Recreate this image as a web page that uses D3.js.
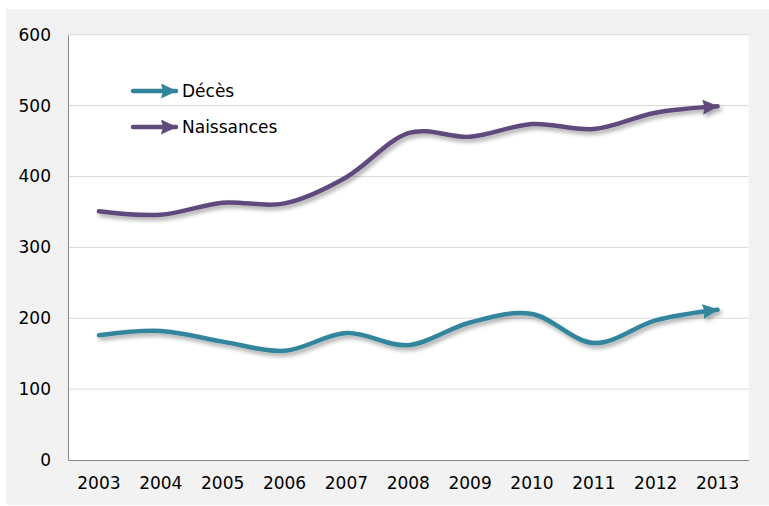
<!DOCTYPE html>
<html>
<head>
<meta charset="utf-8">
<script src="https://cdn.jsdelivr.net/npm/d3@7"></script>
<style>
  body { margin: 0; background: #fff; }
  text { font-family: "DejaVu Sans", Verdana, sans-serif; fill: #000; }
</style>
</head>
<body>
<script>
// Data
const years = ["2003", "2004", "2005", "2006", "2007", "2008", "2009", "2010", "2011", "2012", "2013"];
const deces = [176, 182, 167, 154, 179, 162, 194, 206, 165, 197, 212];
const naissances = [351, 346, 363, 362, 399, 461, 456, 474, 467, 490, 499];
const yTicks = [0, 100, 200, 300, 400, 500, 600];
const seriesNames = ["Décès", "Naissances"];
const seriesColors = ["#31859c", "#604a7b"];

const W = 769, H = 506;
const plot = { left: 68, top: 34.7, right: 748.5, bottom: 460 };

const svg = d3.select("body").append("svg")
  .attr("width", W)
  .attr("height", H);

// Shadow and arrow heads
const defs = svg.append("defs");
defs.append("filter")
  .attr("id", "shadow")
  .attr("x", "-10%").attr("y", "-30%")
  .attr("width", "120%").attr("height", "160%")
  .append("feDropShadow")
  .attr("dx", 2).attr("dy", 3)
  .attr("stdDeviation", 2)
  .attr("flood-color", "#000")
  .attr("flood-opacity", 0.35);

seriesColors.forEach((c, i) => {
  defs.append("marker")
    .attr("id", "arrow" + i)
    .attr("viewBox", "0 0 16 15")
    .attr("refX", 15)
    .attr("refY", 7.5)
    .attr("markerWidth", 16)
    .attr("markerHeight", 15)
    .attr("markerUnits", "userSpaceOnUse")
    .attr("orient", "auto")
    .append("path")
    .attr("d", "M0,0 L16,7.5 L0,15 L2,7.5 Z")
    .attr("fill", c);
});

// Outer grey chart area
svg.append("rect")
  .attr("x", 6).attr("y", 9)
  .attr("width", W - 6).attr("height", 496)
  .attr("fill", "#f2f2f2");

svg.append("rect")
  .attr("x", plot.left).attr("y", plot.top)
  .attr("width", plot.right - plot.left).attr("height", plot.bottom - plot.top)
  .attr("fill", "#fff");

// Scales
const x = d3.scaleBand().domain(years).range([plot.left, plot.right]);
const y = d3.scaleLinear().domain([0, 600]).range([plot.bottom, plot.top]);
const xc = d => x(d) + x.bandwidth() / 2;

// Gridlines
svg.append("g")
  .selectAll("line")
  .data(yTicks.filter(d => d > 0))
  .join("line")
  .attr("x1", plot.left).attr("x2", plot.right)
  .attr("y1", d => y(d)).attr("y2", d => y(d))
  .attr("stroke", "#d9d9d9")
  .attr("stroke-width", 1);

// Axes
const yAxis = d3.axisLeft(y).tickValues(yTicks).tickSize(0).tickPadding(17);
const gy = svg.append("g").attr("transform", `translate(${plot.left},0)`).call(yAxis);
gy.select(".domain").attr("stroke", "#868686");
gy.selectAll("text").style("font-size", "17px").attr("font-family", null);

const xAxis = d3.axisBottom(x).tickSize(0).tickPadding(17);
const gx = svg.append("g").attr("transform", `translate(0,${plot.bottom})`).call(xAxis);
gx.select(".domain").attr("stroke", "#868686");
gx.selectAll("text").style("font-size", "17px").attr("font-family", null);

// Lines
const line = d3.line()
  .x((d, i) => xc(years[i]))
  .y(d => y(d))
  .curve(d3.curveCatmullRom.alpha(0));

[deces, naissances].forEach((vals, i) => {
  svg.append("path")
    .attr("d", line(vals))
    .attr("fill", "none")
    .attr("stroke", seriesColors[i])
    .attr("stroke-width", 4.5)
    .attr("stroke-linecap", "round")
    .attr("marker-end", `url(#arrow${i})`)
    .attr("filter", "url(#shadow)");
});

// Legend
const legend = svg.append("g");
seriesNames.forEach((name, i) => {
  const ly = 91 + i * 36;
  legend.append("line")
    .attr("x1", 133).attr("x2", 176)
    .attr("y1", ly).attr("y2", ly)
    .attr("stroke", seriesColors[i])
    .attr("stroke-width", 4.5)
    .attr("stroke-linecap", "round")
    .attr("marker-end", `url(#arrow${i})`);
  legend.append("text")
    .attr("x", 182)
    .attr("y", ly + 6)
    .style("font-size", "17px")
    .text(name);
});
</script>
</body>
</html>
